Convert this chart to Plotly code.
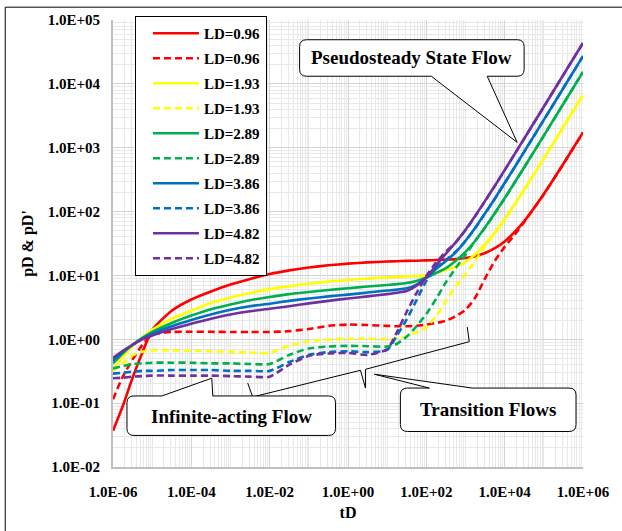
import plotly.graph_objects as go

# ---------------- data ----------------
LOG_TD = [-6, -5.75, -5.5, -5.25, -5, -4.5, -4, -3.5, -3, -2.5, -2, -1.5, -1, -0.5, 0, 0.5,
          1, 1.25, 1.5, 1.75, 2, 2.25, 2.5, 2.75, 3, 3.25, 3.5, 3.75, 4, 4.25, 4.5, 5, 5.5, 6]
tD = [10 ** e for e in LOG_TD]

pD_096 = [0.037, 0.09, 0.25, 0.62, 1.4, 2.8, 4.2, 5.6, 7.2, 8.8, 10.5, 12.0, 13.3, 14.4, 15.3, 16.0,
          16.5, 16.7, 16.9, 17.0, 17.2, 17.4, 17.7, 18.0, 18.7, 20.0, 22.4, 26.7, 34, 47.6, 71, 189, 561, 1740]
dpD_096 = [0.115, 0.26, 0.48, 0.82, 1.18, 1.3, 1.31, 1.31, 1.30, 1.30, 1.30, 1.34, 1.45, 1.62, 1.70, 1.67,
           1.62, 1.60, 1.60, 1.63, 1.70, 1.80, 1.95, 2.3, 2.9, 4.5, 9.0, 17, 28, 43, 69, 186, 556, 1725]
pD_193 = [0.34, 0.52, 0.78, 1.08, 1.4, 2.1, 2.8, 3.7, 4.5, 5.3, 6.1, 6.8, 7.4, 8.0, 8.5, 8.9,
          9.3, 9.5, 9.6, 9.8, 10.1, 11.0, 12.2, 13.7, 16.2, 21.4, 31, 47, 76.5, 129, 221, 680, 2128, 6700]
dpD_193 = [0.32, 0.42, 0.56, 0.64, 0.67, 0.67, 0.66, 0.65, 0.64, 0.62, 0.61, 0.80, 0.93, 0.99, 1.02, 1.02,
           1.00, 1.03, 1.12, 1.28, 1.55, 2.3, 4.0, 6.8, 10.5, 17, 29, 46, 75, 127, 219, 675, 2120, 6680]
pD_289 = [0.42, 0.6, 0.82, 1.05, 1.3, 1.8, 2.35, 2.95, 3.5, 4.1, 4.6, 5.1, 5.5, 5.9, 6.3, 6.7,
          7.1, 7.3, 7.6, 8.2, 9.3, 10.9, 13.0, 17, 23.4, 35, 56.7, 95, 162, 282, 495, 1548, 4878, 15400]
dpD_289 = [0.35, 0.38, 0.41, 0.42, 0.43, 0.43, 0.43, 0.42, 0.42, 0.41, 0.41, 0.57, 0.72, 0.77, 0.79, 0.78,
           0.77, 0.85, 1.1, 1.6, 2.5, 4.3, 7.8, 13, 21, 35, 56, 94, 160, 280, 493, 1545, 4870, 15380]
pD_386 = [0.46, 0.63, 0.82, 1.02, 1.22, 1.6, 2.0, 2.45, 2.9, 3.3, 3.6, 4.0, 4.35, 4.7, 5.0, 5.4,
          5.8, 6.0, 6.3, 7.2, 9.2, 12.6, 16.8, 23, 35, 56, 94, 160, 280, 491, 868, 2727, 8610, 27200]
dpD_386 = [0.29, 0.30, 0.31, 0.32, 0.32, 0.33, 0.33, 0.33, 0.32, 0.32, 0.32, 0.44, 0.57, 0.63, 0.65, 0.63,
           0.68, 1.15, 2.05, 4.1, 8.2, 13.2, 17.5, 23.5, 34.5, 55.5, 93.5, 159, 279, 490, 866, 2724, 8600, 27150]
pD_482 = [0.51, 0.66, 0.82, 1.0, 1.15, 1.45, 1.75, 2.1, 2.45, 2.75, 3.0, 3.3, 3.65, 4.0, 4.35, 4.7,
          5.1, 5.35, 5.7, 6.9, 9.3, 14.5, 22, 33, 52, 86, 147, 254, 446, 787, 1393, 4388, 13860, 43800]
dpD_482 = [0.245, 0.25, 0.26, 0.265, 0.27, 0.27, 0.27, 0.27, 0.265, 0.26, 0.26, 0.40, 0.55, 0.60, 0.61, 0.57,
           0.70, 1.3, 2.7, 5.3, 9.8, 16, 23.5, 33, 51, 85, 146, 253, 444, 785, 1390, 4385, 13850, 43750]

SERIES = [
    ("LD=0.96", pD_096, dpD_096, "#FF0000"),
    ("LD=1.93", pD_193, dpD_193, "#FFFF00"),
    ("LD=2.89", pD_289, dpD_289, "#00B050"),
    ("LD=3.86", pD_386, dpD_386, "#0070C0"),
    ("LD=4.82", pD_482, dpD_482, "#7030A0"),
]

X_TICKS = [1e-6, 1e-4, 1e-2, 1e0, 1e2, 1e4, 1e6]
X_TICKTEXT = ["1.0E-06", "1.0E-04", "1.0E-02", "1.0E+00", "1.0E+02", "1.0E+04", "1.0E+06"]
Y_TICKS = [1e-2, 1e-1, 1e0, 1e1, 1e2, 1e3, 1e4, 1e5]
Y_TICKTEXT = ["1.0E-02", "1.0E-01", "1.0E+00", "1.0E+01", "1.0E+02", "1.0E+03", "1.0E+04", "1.0E+05"]

FONT = "Liberation Serif"

# ---------------- figure ----------------
fig = go.Figure()
for i, (name, solid, dashed, col) in enumerate(SERIES):
    fig.add_trace(go.Scatter(x=tD, y=solid, mode="lines", name=name, legendgroup=f"g{2*i}",
                             line=dict(color=col, width=2.6, shape="spline", smoothing=0.6)))
    fig.add_trace(go.Scatter(x=tD, y=dashed, mode="lines", name=name, legendgroup=f"g{2*i+1}",
                             line=dict(color=col, width=2.6, dash="7px,4px", shape="spline", smoothing=0.6)))

W, H = 622, 531
PL, PR, PT, PB = 113, 584, 19, 472


def fx(x):
    return (x - PL) / (PR - PL)


def fy(y):
    return (PB - y) / (PB - PT)


def P(x, y):
    return f"{fx(x):.5f},{fy(y):.5f}"


def callout(x0, y0, x1, y1, r, side, a, b, tip):
    # rounded box outline with a wedge pointer on the top or bottom edge
    s = f"M{P(x0 + r, y0)}"
    if side == "top":
        s += f" L{P(a, y0)} L{P(*tip)} L{P(b, y0)}"
    s += f" L{P(x1 - r, y0)} Q{P(x1, y0)} {P(x1, y0 + r)}"
    s += f" L{P(x1, y1 - r)} Q{P(x1, y1)} {P(x1 - r, y1)}"
    if side == "bottom":
        s += f" L{P(b, y1)} L{P(*tip)} L{P(a, y1)}"
    s += f" L{P(x0 + r, y1)} Q{P(x0, y1)} {P(x0, y1 - r)}"
    s += f" L{P(x0, y0 + r)} Q{P(x0, y0)} {P(x0 + r, y0)} Z"
    return s


shapes = []
# outer frame
shapes.append(dict(type="rect", xref="paper", yref="paper", x0=fx(5), y0=fy(6), x1=fx(640), y1=fy(545),
                   line=dict(color="#000000", width=1), fillcolor="rgba(0,0,0,0)", layer="above"))
# brace over the transition region
brace = [(248, 387), (253, 401), (361, 374), (366, 392), (366, 373), (470, 345), (468, 330)]
shapes.append(dict(type="path", xref="paper", yref="paper",
                   path="M" + " L".join(P(*p) for p in brace),
                   line=dict(color="#000000", width=1), layer="above"))
# callouts
shapes.append(dict(type="path", xref="paper", yref="paper",
                   path=callout(300, 39, 525, 76, 7, "bottom", 432, 488, (518, 143)),
                   line=dict(color="#000000", width=1), fillcolor="white", layer="above"))
shapes.append(dict(type="path", xref="paper", yref="paper",
                   path=callout(127, 400, 336, 440, 7, "top", 162, 213, (212, 382)),
                   line=dict(color="#000000", width=1), fillcolor="white", layer="above"))
shapes.append(dict(type="path", xref="paper", yref="paper",
                   path=callout(401, 392, 577, 436, 7, "top", 430, 473, (375, 378)),
                   line=dict(color="#000000", width=1), fillcolor="white", layer="above"))

annotations = []
for txt, cx, cy in [("Pseudosteady State Flow", 412.5, 57.5),
                    ("Infinite-acting Flow", 231.5, 421),
                    ("Transition Flows", 489, 414)]:
    annotations.append(dict(text=txt, x=fx(cx), y=fy(cy), xref="paper", yref="paper",
                            xanchor="center", yanchor="middle", showarrow=False,
                            font=dict(family=FONT, size=19, color="black", weight="bold")))

fig.update_layout(
    width=W, height=H,
    margin=dict(l=PL, r=W - PR, t=PT, b=H - PB),
    paper_bgcolor="white", plot_bgcolor="white",
    font=dict(family=FONT, color="black", size=15, weight="bold"),
    showlegend=True,
    legend=dict(x=fx(135), y=fy(15), xanchor="left", yanchor="top",
                bgcolor="white", bordercolor="black", borderwidth=1,
                font=dict(family=FONT, size=15, color="black", weight="bold"),
                itemwidth=46, tracegroupgap=2.5, traceorder="grouped",
                indentation=12, entrywidth=126),
    shapes=shapes,
    annotations=annotations,
)

fig.update_xaxes(type="log", range=[-6, 6], tickvals=X_TICKS, ticktext=X_TICKTEXT,
                 showgrid=True, gridcolor="#d4d4d4", gridwidth=1,
                 minor=dict(dtick="D1", showgrid=True, gridcolor="#e8e8e8", gridwidth=1, ticks=""),
                 showline=True, linecolor="#bfbfbf", linewidth=2, zeroline=False, ticks="",
                 ticklabelstandoff=10,
                 tickfont=dict(family=FONT, size=15, color="black", weight="bold"),
                 title=dict(text="tD", standoff=8,
                            font=dict(family=FONT, size=16, color="black", weight="bold")))
fig.update_yaxes(type="log", range=[-2, 5], tickvals=Y_TICKS, ticktext=Y_TICKTEXT,
                 showgrid=True, gridcolor="#d4d4d4", gridwidth=1,
                 minor=dict(dtick="D1", showgrid=True, gridcolor="#e8e8e8", gridwidth=1, ticks=""),
                 showline=True, linecolor="#bfbfbf", linewidth=2, zeroline=False, ticks="",
                 ticklabelstandoff=8,
                 tickfont=dict(family=FONT, size=15, color="black", weight="bold"),
                 title=dict(text="pD & pD'", standoff=10,
                            font=dict(family=FONT, size=16, color="black", weight="bold")))

fig.write_html("out.html")
